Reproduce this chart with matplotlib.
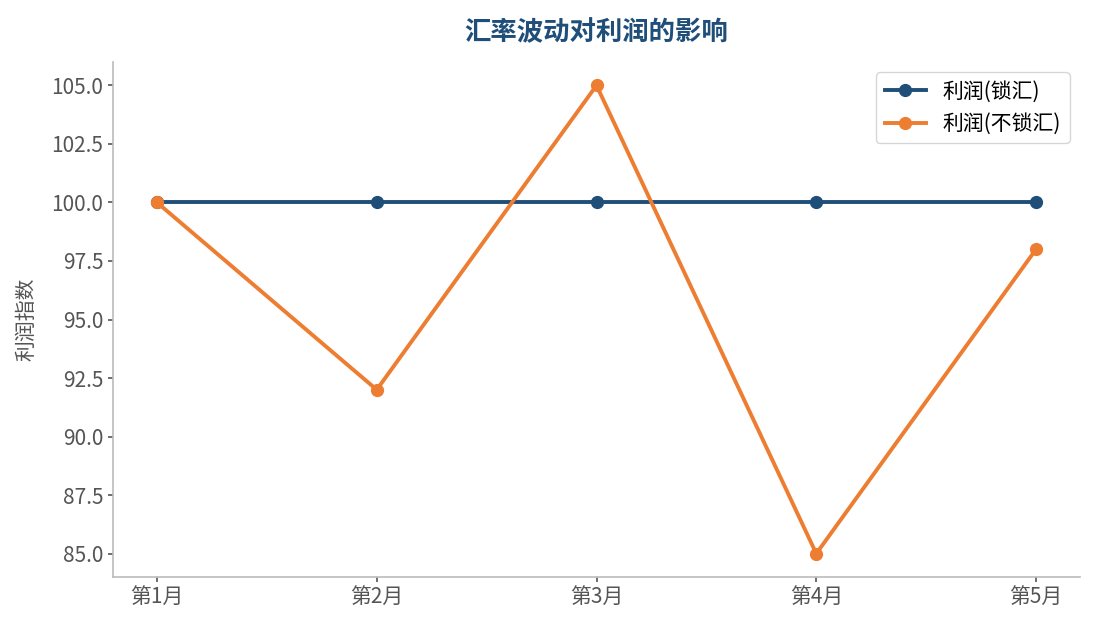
import numpy as np
import matplotlib
matplotlib.use("Agg")
import matplotlib.pyplot as plt

plt.rcParams['font.family'] = ['Noto Sans CJK SC', 'DejaVu Sans']

months = ["第1月", "第2月", "第3月", "第4月", "第5月"]
profit_locked = [100, 100, 100, 100, 100]
profit_unlocked = [100, 92, 105, 85, 98]

fig = plt.figure(figsize=(10.95, 6.3), dpi=100)
ax = fig.add_axes([0.1032, 0.0841, 0.8831, 0.8175])

x = np.arange(len(months))
ax.plot(x, profit_locked, marker="o", color="#1f4e79", linewidth=2.8, markersize=8.5, label="利润(锁汇)")
ax.plot(x, profit_unlocked, marker="o", color="#ed7d31", linewidth=2.8, markersize=8.5, label="利润(不锁汇)")

ax.set_xticks(x)
ax.set_xticklabels(months)
ax.set_ylabel("利润指数", fontsize=15, color="#555555", labelpad=10)
ax.set_title("汇率波动对利润的影响", fontsize=19, fontweight="bold", color="#1f4e79", pad=16)

for s in ["top", "right"]:
    ax.spines[s].set_visible(False)
for s in ["left", "bottom"]:
    ax.spines[s].set_color("#bbbbbb")
    ax.spines[s].set_linewidth(1.2)
ax.tick_params(colors="#555555", labelsize=15)
ax.tick_params(axis="both", color="#555555", width=1.2)

leg = ax.legend(loc="upper right", fontsize=15)
leg.get_frame().set_edgecolor("#cccccc")

fig.savefig("out.png", dpi=100)
